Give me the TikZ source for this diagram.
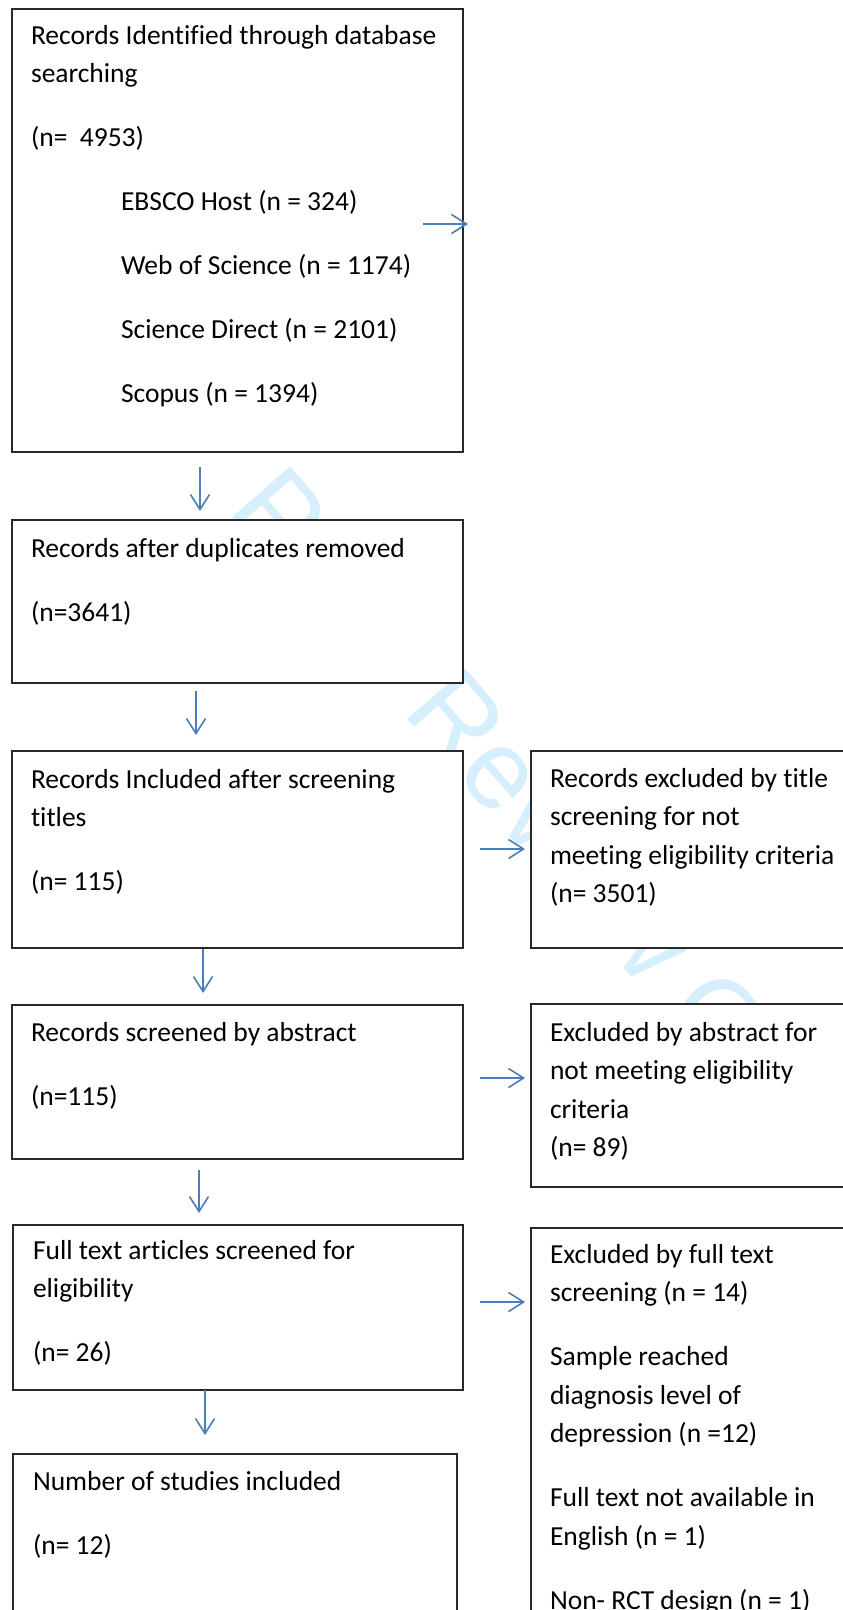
\documentclass[tikz,border=0pt]{standalone}
\usepackage{fontspec}
\setmainfont{Carlito}[Ligatures=NoCommon]
\newfontfamily\wmfont{Liberation Sans}
\usetikzlibrary{arrows.meta}
\definecolor{arrowblue}{RGB}{74,126,187}
\definecolor{wmcyan}{RGB}{214,239,252}
\definecolor{boxgray}{RGB}{40,40,40}
\newcommand{\boxlines}[1]{\parbox[t]{520pt}{\raggedright\fontsize{27.5pt}{38.5pt}\selectfont #1}}
\newcommand{\pb}{\\[25.5pt]}
\begin{document}
\begin{tikzpicture}[x=1pt,y=-1pt,
  flowbox/.style={draw=boxgray, line width=1.4pt, fill=white, anchor=north west, inner sep=0pt, outer sep=0pt},
  textblock/.style={anchor=base west, inner sep=0pt, outer sep=0pt},
  arr/.style={draw=arrowblue, line width=1.6pt, -{Straight Barb[length=15pt,width=19pt]}},
  wm/.style={rotate=-49, anchor=base west, text=wmcyan, inner sep=0pt, font=\wmfont\fontsize{112pt}{112pt}\selectfont}]
\useasboundingbox (0,0) rectangle (843,1610);
\clip (0,0) rectangle (843,1610);
\fill[white] (0,0) rectangle (843,1610);
% watermark
\node[wm] (wmark) at (226,510) {Peer Review Only};
% boxes
\node[flowbox, minimum width=451pt, minimum height=443pt] (b1) at (12,9) {};
\node[flowbox, minimum width=451pt, minimum height=163pt] (b2) at (12,520) {};
\node[flowbox, minimum width=451pt, minimum height=197pt] (b3) at (12,751) {};
\node[flowbox, minimum width=451pt, minimum height=154pt] (b4) at (12,1005) {};
\node[flowbox, minimum width=450pt, minimum height=165pt] (b5) at (13,1225) {};
\node[flowbox, minimum width=444pt, minimum height=220pt] (b6) at (13,1454) {};
\node[flowbox, minimum width=330pt, minimum height=197pt] (r1) at (531,751) {};
\node[flowbox, minimum width=330pt, minimum height=183pt] (r2) at (531,1004) {};
\node[flowbox, minimum width=330pt, minimum height=420pt] (r3) at (531,1228) {};
% texts
\node[textblock] (t1) at (31,44) {\boxlines{Records Identified through database\\searching\pb(n=\ \ 4953)\pb\hspace*{90pt}EBSCO Host (n = 324)\pb\hspace*{90pt}Web of Science (n = 1174)\pb\hspace*{90pt}Science Direct (n = 2101)\pb\hspace*{90pt}Scopus (n = 1394)}};
\node[textblock] (t2) at (31,557) {\boxlines{Records after duplicates removed\pb(n=3641)}};
\node[textblock] (t3) at (31,788) {\boxlines{Records Included after screening\\titles\pb(n= 115)}};
\node[textblock] (t4) at (31,1041) {\boxlines{Records screened by abstract\pb(n=115)}};
\node[textblock] (t5) at (33,1259) {\boxlines{Full text articles screened for\\eligibility\pb(n= 26)}};
\node[textblock] (t6) at (33,1490) {\boxlines{Number of studies included\pb(n= 12)}};
\node[textblock] (tr1) at (550,787) {\boxlines{Records excluded by title\\screening for not\\meeting eligibility criteria\\(n= 3501)}};
\node[textblock] (tr2) at (550,1041) {\boxlines{Excluded by abstract for\\not meeting eligibility\\criteria\\(n= 89)}};
\node[textblock] (tr3) at (550,1263) {\boxlines{Excluded by full text\\screening (n = 14)\pb Sample reached\\diagnosis level of\\depression (n =12)\pb Full text not available in\\English (n = 1)\pb Non- RCT design (n = 1)}};
% arrow guide coordinates
\coordinate (a0s) at (423,224);
\coordinate (a0e) at (468,224);
\coordinate (x1) at (200,0);
\coordinate (x2) at (196,0);
\coordinate (x3) at (203,0);
\coordinate (x4) at (199,0);
\coordinate (x5) at (205,0);
\coordinate (y1) at (0,849);
\coordinate (y2) at (0,1078);
\coordinate (y3) at (0,1302);
% arrows
\draw[arr] (a0s) -- (a0e);
\draw[arr, shorten <=15pt, shorten >=9pt] (b1.south -| x1) -- (b2.north -| x1);
\draw[arr, shorten <=8pt, shorten >=16pt] (b2.south -| x2) -- (b3.north -| x2);
\draw[arr, shorten <=1pt, shorten >=12pt] (b3.south -| x3) -- (b4.north -| x3);
\draw[arr, shorten <=11pt, shorten >=12pt] (b4.south -| x4) -- (b5.north -| x4);
\draw[arr, shorten <=0pt, shorten >=19pt] (b5.south -| x5) -- (b6.north -| x5);
\draw[arr, shorten <=17pt, shorten >=6pt] (b3.east |- y1) -- (r1.west |- y1);
\draw[arr, shorten <=17pt, shorten >=6pt] (b4.east |- y2) -- (r2.west |- y2);
\draw[arr, shorten <=17pt, shorten >=6pt] (b5.east |- y3) -- (r3.west |- y3);
\end{tikzpicture}
\end{document}
